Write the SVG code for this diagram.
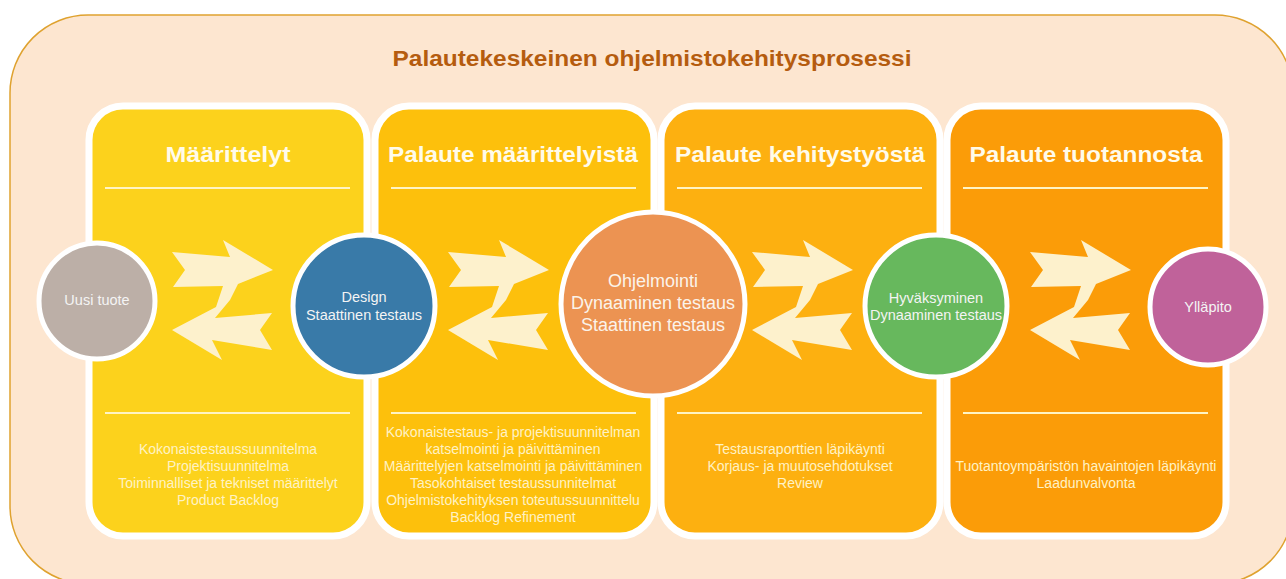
<svg xmlns="http://www.w3.org/2000/svg" width="1286" height="579" viewBox="0 0 1286 579">
<style>
.hdr{font-family:"Liberation Sans",Arial,sans-serif;font-weight:bold;font-size:22px;fill:#fffbea;text-anchor:middle}
.sub{font-family:"Liberation Sans",Arial,sans-serif;font-size:14px;fill:#fff2c4;text-anchor:middle}
.ct{font-family:"Liberation Sans",Arial,sans-serif;font-size:14.5px;fill:#f4f4f4;text-anchor:middle}
.ctb{font-family:"Liberation Sans",Arial,sans-serif;font-size:18px;fill:#fbf3ea;text-anchor:middle}
.panel{stroke:#ffffff;stroke-width:7}
.rule{stroke:#fff4c4;stroke-width:2}
.circ{stroke:#ffffff;stroke-width:5}
.arr{fill:#fdf1cc}
</style>
<defs>
<polygon id="pair" class="arr" points="172,252 230,257 223,240 273,270 238,284 230,300 215,318 272,313 260,330 272,350 212,340 222,360 172,330 216,307 223,286 173,287 185,270"/>
</defs>
<rect x="10" y="15" width="1283" height="569" rx="78" fill="#fde6d0" stroke="#dfa22f" stroke-width="1.5"/>
<text x="652" y="66" font-family="'Liberation Sans',Arial,sans-serif" font-weight="bold" font-size="22" fill="#b55c0f" text-anchor="middle" textLength="519" lengthAdjust="spacingAndGlyphs">Palautekeskeinen ohjelmistokehitysprosessi</text>

<g id="panel-maarittelyt">
<rect class="panel" x="89" y="106" width="278" height="430" rx="34" fill="#fcd21c"/>
<text class="hdr" x="228" y="162" textLength="125" lengthAdjust="spacingAndGlyphs">Määrittelyt</text>
<line class="rule" x1="105" y1="188" x2="350" y2="188"/>
<line class="rule" x1="105" y1="413" x2="350" y2="413"/>
<text class="sub" x="228" y="454">Kokonaistestaussuunnitelma</text>
<text class="sub" x="228" y="471">Projektisuunnitelma</text>
<text class="sub" x="228" y="488">Toiminnalliset ja tekniset määrittelyt</text>
<text class="sub" x="228" y="505">Product Backlog</text>
</g>
<g id="panel-palaute-maarittelyista">
<rect class="panel" x="375" y="106" width="279" height="430" rx="34" fill="#fdc00c"/>
<text class="hdr" x="513" y="162" textLength="250" lengthAdjust="spacingAndGlyphs">Palaute määrittelyistä</text>
<line class="rule" x1="391" y1="188" x2="636" y2="188"/>
<line class="rule" x1="391" y1="413" x2="636" y2="413"/>
<text class="sub" x="513" y="437">Kokonaistestaus- ja projektisuunnitelman</text>
<text class="sub" x="513" y="454">katselmointi ja päivittäminen</text>
<text class="sub" x="513" y="471">Määrittelyjen katselmointi ja päivittäminen</text>
<text class="sub" x="513" y="488">Tasokohtaiset testaussunnitelmat</text>
<text class="sub" x="513" y="505">Ohjelmistokehityksen toteutussuunnittelu</text>
<text class="sub" x="513" y="522">Backlog Refinement</text>
</g>
<g id="panel-palaute-kehitystyosta">
<rect class="panel" x="661" y="106" width="279" height="430" rx="34" fill="#fdb010"/>
<text class="hdr" x="800" y="162" textLength="250" lengthAdjust="spacingAndGlyphs">Palaute kehitystyöstä</text>
<line class="rule" x1="677" y1="188" x2="922" y2="188"/>
<line class="rule" x1="677" y1="413" x2="922" y2="413"/>
<text class="sub" x="800" y="454">Testausraporttien läpikäynti</text>
<text class="sub" x="800" y="471">Korjaus- ja muutosehdotukset</text>
<text class="sub" x="800" y="488">Review</text>
</g>
<g id="panel-palaute-tuotannosta">
<rect class="panel" x="947" y="106" width="279" height="430" rx="34" fill="#fb9c08"/>
<text class="hdr" x="1086" y="162" textLength="233" lengthAdjust="spacingAndGlyphs">Palaute tuotannosta</text>
<line class="rule" x1="963" y1="188" x2="1208" y2="188"/>
<line class="rule" x1="963" y1="413" x2="1208" y2="413"/>
<text class="sub" x="1086" y="471">Tuotantoympäristön havaintojen läpikäynti</text>
<text class="sub" x="1086" y="488">Laadunvalvonta</text>
</g>

<g id="connectors">
<use href="#pair"/>
<use href="#pair" x="276"/>
<use href="#pair" x="580"/>
<use href="#pair" x="858"/>
</g>

<g id="node-uusi-tuote">
<circle class="circ" cx="97" cy="301" r="58" fill="#bcafa7"/>
<text class="ct" x="97" y="305">Uusi tuote</text>
</g>
<g id="node-design">
<circle class="circ" cx="364" cy="306" r="71" fill="#397aa8"/>
<text class="ct" x="364" y="302">Design</text>
<text class="ct" x="364" y="320">Staattinen testaus</text>
</g>
<g id="node-ohjelmointi">
<circle class="circ" cx="653" cy="304" r="92" fill="#ec9352"/>
<text class="ctb" x="653" y="287">Ohjelmointi</text>
<text class="ctb" x="653" y="309">Dynaaminen testaus</text>
<text class="ctb" x="653" y="331">Staattinen testaus</text>
</g>
<g id="node-hyvaksyminen">
<circle class="circ" cx="936" cy="306" r="71" fill="#67b85d"/>
<text class="ct" x="936" y="303">Hyväksyminen</text>
<text class="ct" x="936" y="320">Dynaaminen testaus</text>
</g>
<g id="node-yllapito">
<circle class="circ" cx="1208" cy="307" r="58" fill="#c0629a"/>
<text class="ct" x="1208" y="312">Ylläpito</text>
</g>
</svg>
